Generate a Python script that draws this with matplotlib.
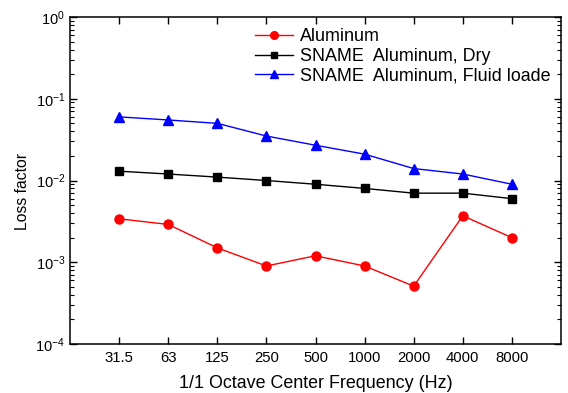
import matplotlib.pyplot as plt
from matplotlib.ticker import LogLocator, NullFormatter

plt.rcParams['font.family'] = ['Liberation Sans', 'DejaVu Sans']
plt.rcParams['mathtext.default'] = 'regular'

# 1/1 octave centre frequencies
freqs = ["31.5", "63", "125", "250", "500", "1000", "2000", "4000", "8000"]

aluminum = [0.0034, 0.0029, 0.0015, 0.0009, 0.0012, 0.0009, 0.00051, 0.0037, 0.0020]
sname_dry = [0.013, 0.012, 0.011, 0.010, 0.009, 0.008, 0.007, 0.007, 0.006]
sname_fluid = [0.060, 0.055, 0.050, 0.035, 0.027, 0.021, 0.014, 0.012, 0.009]

x = list(range(len(freqs)))

fig = plt.figure(figsize=(5.68, 3.93), dpi=100)
ax = fig.add_axes([70 / 568, 1 - 344 / 393, 491 / 568, 327 / 393])

ax.plot(x, aluminum, color="red", marker="o", markersize=6.5, lw=1, label="Aluminum")
ax.plot(x, sname_dry, color="black", marker="s", markersize=5.5, lw=1,
        label="SNAME  Aluminum, Dry")
ax.plot(x, sname_fluid, color="blue", marker="^", markersize=7, lw=1,
        label="SNAME  Aluminum, Fluid loade")

ax.set_yscale("log")
ax.set_ylim(1e-4, 1)
ax.set_xlim(-1, 9)
ax.set_xticks(x)
ax.set_xticklabels(freqs)
ax.yaxis.set_major_locator(LogLocator(base=10, numticks=10))
ax.yaxis.set_minor_locator(LogLocator(base=10, subs=range(2, 10), numticks=20))
ax.yaxis.set_minor_formatter(NullFormatter())

ax.tick_params(which="both", direction="in", top=True, right=True)
ax.tick_params(axis="x", labelsize=10.7, pad=5)
ax.tick_params(axis="y", labelsize=10.5)
ax.tick_params(which="major", length=5, width=1)
ax.tick_params(which="minor", length=3, width=0.8)
ax.tick_params(axis="x", which="minor", top=False, bottom=False)
for s in ax.spines.values():
    s.set_linewidth(1.1)

ax.set_xlabel("1/1 Octave Center Frequency (Hz)", fontsize=12.9, labelpad=7)
ax.set_ylabel("Loss factor", fontsize=11.3)
ax.yaxis.label.set_y(0.468)

leg = ax.legend(loc="upper left", bbox_to_anchor=(0.363, 0.988), frameon=False,
                fontsize=12.9, handlelength=2.1, handletextpad=0.4,
                labelspacing=0.15, borderaxespad=0.0, markerscale=0.85)

fig.savefig("out.png", dpi=100)
